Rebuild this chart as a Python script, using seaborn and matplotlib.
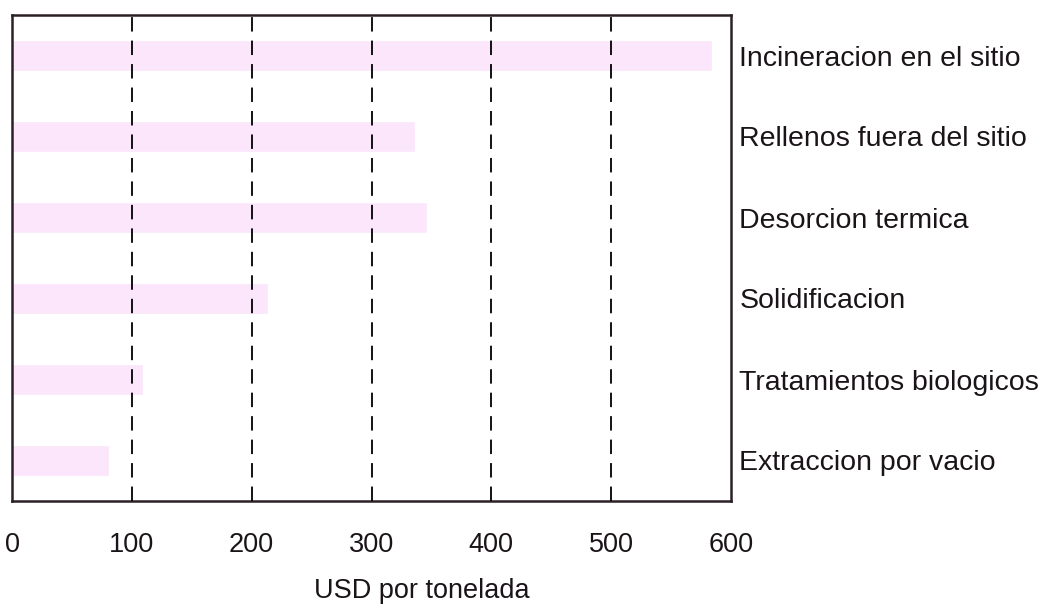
import pandas as pd
import matplotlib
matplotlib.use("Agg")
import matplotlib.pyplot as plt
import seaborn as sns

# Data
metodos = [
    "Incineracion en el sitio",
    "Rellenos fuera del sitio",
    "Desorcion termica",
    "Solidificacion",
    "Tratamientos biologicos",
    "Extraccion por vacio",
]
costo_usd = [584, 336, 346, 214, 109, 81]
x_ticks = [0, 100, 200, 300, 400, 500, 600]

df = pd.DataFrame({"Metodo": metodos, "Costo": costo_usd})

sns.set_style("white")
plt.rcParams["font.family"] = ["Liberation Sans", "DejaVu Sans"]

fig = plt.figure(figsize=(10.45, 6.05), dpi=100)
ax = fig.add_axes([12 / 1045, 1 - 501 / 605, (731 - 12) / 1045, (501 - 15) / 605])

sns.barplot(data=df, x="Costo", y="Metodo", orient="h", color="#fbe6fb",
            width=0.38, saturation=1, ax=ax)

# dashed vertical gridlines
for v in x_ticks[1:-1]:
    ax.axvline(v, color="black", linestyle=(0, (8, 5)), linewidth=1.3, zorder=3)

ax.set_xlim(0, 600)
ax.set_ylim(5.5, -0.5)
ax.set_xticks(x_ticks)
ax.tick_params(axis="x", length=0, pad=22, labelsize=19.5, labelcolor="#1a1418")

ax.yaxis.tick_right()
ax.tick_params(axis="y", length=0, pad=6, labelsize=20.5, labelcolor="#1a1418")
ax.set_ylabel("")
ax.set_xlabel("USD por tonelada", fontsize=19.5, color="#1a1418")
ax.xaxis.set_label_coords(0.57, -0.158)

for s in ax.spines.values():
    s.set_visible(True)
    s.set_color("#2a2026")
    s.set_linewidth(1.8)

plt.savefig("out.png", dpi=100)
